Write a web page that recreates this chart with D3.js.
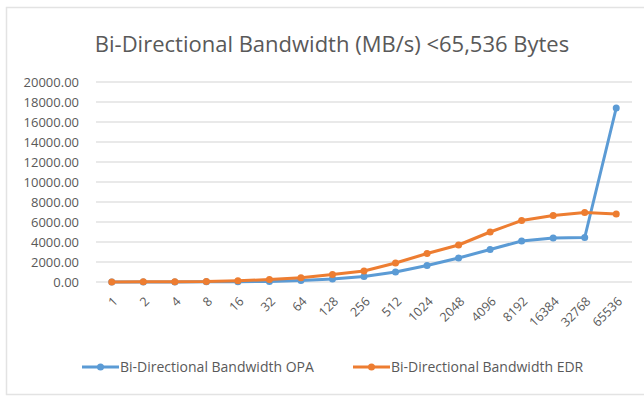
<!DOCTYPE html>
<html>
<head>
<meta charset="utf-8">
<script src="https://cdn.jsdelivr.net/npm/d3@7"></script>
<style>
  body { margin: 0; background: #fff; }
  text { font-family: "Open Sans", "Noto Sans", sans-serif; fill: #595959; }
</style>
</head>
<body>
<div id="chart"></div>
<script>
// message sizes (bytes) and bandwidth in MB/s
var sizes = ["1","2","4","8","16","32","64","128","256","512","1024","2048","4096","8192","16384","32768","65536"];
var opa = [5, 8, 12, 20, 30, 60, 150, 300, 550, 1000, 1650, 2400, 3250, 4100, 4400, 4450, 17400];
var edr = [10, 20, 30, 40, 120, 250, 420, 750, 1100, 1900, 2850, 3700, 5000, 6150, 6650, 6950, 6800];
var yTicks = [0, 2000, 4000, 6000, 8000, 10000, 12000, 14000, 16000, 18000, 20000];
var seriesNames = ["Bi-Directional Bandwidth OPA", "Bi-Directional Bandwidth EDR"];
var colors = ["#5B9BD5", "#ED7D31"];

var width = 644, height = 397;
var margin = {top: 82, right: 12, bottom: 115, left: 96};

var svg = d3.select("#chart")
  .append("svg")
    .attr("width", width)
    .attr("height", height);

// outer chart border
svg.append("rect")
  .attr("x", 6.5).attr("y", 7.5)
  .attr("width", 660).attr("height", 387)
  .attr("fill", "#fff")
  .attr("stroke", "#e3e3e3")
  .attr("stroke-width", 1.5);

svg.append("text")
  .attr("x", 332).attr("y", 52)
  .attr("text-anchor", "middle")
  .style("font-size", "22px")
  .text("Bi-Directional Bandwidth (MB/s) <65,536 Bytes");

var xScale = d3.scalePoint()
  .domain(sizes)
  .range([margin.left, width - margin.right])
  .padding(0.5);
var yScale = d3.scaleLinear()
  .domain([0, 20000])
  .range([height - margin.bottom, margin.top]);

// gridlines
svg.append("g")
  .selectAll("line")
  .data(yTicks)
  .enter()
  .append("line")
    .attr("x1", margin.left).attr("x2", width - margin.right)
    .attr("y1", function(d) { return yScale(d); })
    .attr("y2", function(d) { return yScale(d); })
    .attr("stroke", "#e2e2e2")
    .attr("stroke-width", 1.5);

var yAxis = svg.append("g")
  .attr("transform", "translate(" + (margin.left - 14) + ",0)")
  .call(d3.axisLeft(yScale).tickValues(yTicks).tickSize(0).tickFormat(d3.format(".2f")));
yAxis.select(".domain").remove();
yAxis.selectAll("text").style("font-size", "13px").attr("fill", "#595959");

var xAxis = svg.append("g")
  .attr("transform", "translate(0," + (height - margin.bottom) + ")")
  .call(d3.axisBottom(xScale).tickSize(0));
xAxis.select(".domain").remove();
xAxis.selectAll("text")
  .style("font-size", "12.5px")
  .attr("fill", "#595959")
  .attr("text-anchor", "end")
  .attr("dy", "0.35em")
  .attr("transform", function(d) { return "translate(1,15) rotate(-45)"; });

var line = d3.line()
  .x(function(d, i) { return xScale(sizes[i]); })
  .y(function(d) { return yScale(d); });

[opa, edr].forEach(function(data, s) {
  svg.append("path")
    .datum(data)
    .attr("fill", "none")
    .attr("stroke", colors[s])
    .attr("stroke-width", 3)
    .attr("stroke-linejoin", "round")
    .attr("d", line);
  svg.append("g")
    .selectAll("circle")
    .data(data)
    .enter()
    .append("circle")
      .attr("cx", function(d, i) { return xScale(sizes[i]); })
      .attr("cy", function(d) { return yScale(d); })
      .attr("r", 3.5)
      .attr("fill", colors[s]);
});

// legend
var legendX = [82, 353];
seriesNames.forEach(function(name, s) {
  var g = svg.append("g").attr("transform", "translate(" + legendX[s] + ",367)");
  g.append("line")
    .attr("x1", 0).attr("x2", 37)
    .attr("stroke", colors[s]).attr("stroke-width", 3);
  g.append("circle").attr("cx", 18.5).attr("cy", 0).attr("r", 3.5).attr("fill", colors[s]);
  g.append("text")
    .attr("x", 38).attr("dy", "0.35em")
    .style("font-size", "14px")
    .text(name);
});
</script>
</body>
</html>
